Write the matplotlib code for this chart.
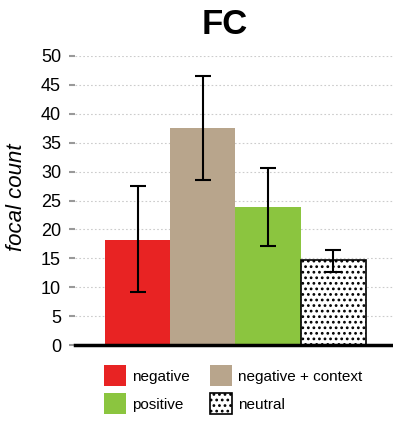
import matplotlib
matplotlib.use('Agg')
import matplotlib.pyplot as plt

# data
conditions = ["negative", "negative + context", "positive", "neutral"]
means = [18.2, 37.6, 23.9, 14.7]
err_low = [9.2, 28.5, 17.2, 12.6]
err_high = [27.5, 46.5, 30.6, 16.5]
y_ticks = [0, 5, 10, 15, 20, 25, 30, 35, 40, 45, 50]

colors = ['#e82323', '#b8a58c', '#8bc53f', 'white']

plt.rcParams['font.family'] = ['Liberation Sans', 'DejaVu Sans']
plt.rcParams['hatch.linewidth'] = 1.2

fig = plt.figure(figsize=(3.93, 4.21), dpi=100)
ax = fig.add_axes([75 / 393, 76 / 421, 318 / 393, 289 / 421])

x = list(range(len(conditions)))
yerr = [[m - lo for m, lo in zip(means, err_low)],
        [hi - m for m, hi in zip(means, err_high)]]

bars = ax.bar(x, means, width=1.0, color=colors, zorder=2)
bars[3].set_edgecolor('black')
bars[3].set_linewidth(1.2)
bars[3].set_hatch('...')

ax.errorbar(x, means, yerr=yerr, fmt='none', ecolor='black',
            elinewidth=1.5, capsize=6, capthick=1.5, zorder=3)

ax.set_xlim(-0.96, 3.915)
ax.set_ylim(0, 50)
ax.set_yticks(y_ticks)
ax.set_xticks([])
ax.tick_params(axis='y', length=4, width=1.5, color='#999999',
               labelsize=13, pad=6)
ax.yaxis.grid(True, linestyle=(0, (1.5, 2)), color='#cccccc', linewidth=0.8, zorder=0)
ax.set_axisbelow(True)

for side in ['top', 'right', 'left']:
    ax.spines[side].set_visible(False)
ax.spines['bottom'].set_linewidth(2.5)
ax.spines['bottom'].set_zorder(4)

fig.text(17 / 393, 1 - 197 / 421, 'focal count', rotation=90, style='italic',
         fontsize=16, ha='center', va='center')
fig.text(225 / 393, 1 - 25 / 421, 'FC', fontsize=25, fontweight='bold',
         ha='center', va='center')

handles = [bars[0], bars[2], bars[1], bars[3]]
labels = [conditions[0], conditions[2], conditions[1], conditions[3]]
fig.legend(handles, labels, ncol=2, loc='upper left',
           bbox_to_anchor=(104 / 393, 1 - 365 / 421), frameon=False,
           fontsize=11, handlelength=1.45, handleheight=1.75,
           handletextpad=0.4, columnspacing=1.3, labelspacing=0.45,
           borderpad=0, borderaxespad=0)

fig.savefig('out.png', dpi=100)
